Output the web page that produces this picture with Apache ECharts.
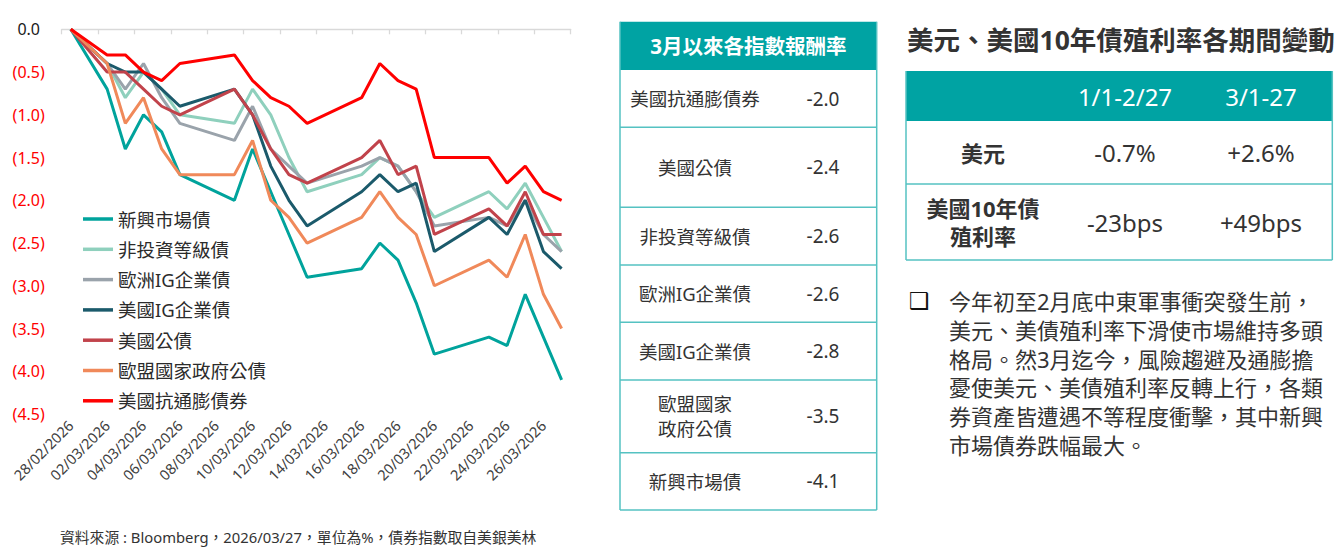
<!DOCTYPE html>
<html>
<head>
<meta charset="utf-8">
<script src="https://cdn.jsdelivr.net/npm/echarts@6/dist/echarts.min.js"></script>
<style>
  html, body { margin: 0; padding: 0; background: #fff; }
  #main { width: 1343px; height: 547px; }
</style>
</head>
<body>
<div id="main"></div>
<script>
// 日期（含週末，週末無資料以 null 表示）
const dates = [
  '28/02/2026', '01/03/2026', '02/03/2026', '03/03/2026', '04/03/2026', '05/03/2026', '06/03/2026',
  '07/03/2026', '08/03/2026', '09/03/2026', '10/03/2026', '11/03/2026', '12/03/2026', '13/03/2026',
  '14/03/2026', '15/03/2026', '16/03/2026', '17/03/2026', '18/03/2026', '19/03/2026', '20/03/2026',
  '21/03/2026', '22/03/2026', '23/03/2026', '24/03/2026', '25/03/2026', '26/03/2026', '27/03/2026'
];

// 各指數累積報酬（%）
const emBond   = [0, null, -0.7, -1.4, -1.0, -1.2, -1.7, null, null, -2.0, -1.4, -1.9, -2.4, -2.9, null, null, -2.8, -2.5, -2.7, -3.2, -3.8, null, null, -3.6, -3.7, -3.1, -3.6, -4.1];
const highYield = [0, null, -0.4, -0.8, -0.5, -0.7, -1.0, null, null, -1.1, -0.7, -1.0, -1.5, -1.9, null, null, -1.7, -1.5, -1.6, -1.9, -2.2, null, null, -1.9, -2.1, -1.8, -2.2, -2.6];
const euIG     = [0, null, -0.4, -0.7, -0.4, -0.8, -1.1, null, null, -1.3, -0.9, -1.4, -1.6, -1.8, null, null, -1.6, -1.5, -1.6, -1.9, -2.3, null, null, -2.2, -2.3, -2.0, -2.4, -2.6];
const usIG     = [0, null, -0.4, -0.5, -0.5, -0.7, -0.9, null, null, -0.7, -1.0, -1.6, -2.0, -2.3, null, null, -1.9, -1.7, -1.9, -1.8, -2.6, null, null, -2.2, -2.4, -2.0, -2.6, -2.8];
const usTsy    = [0, null, -0.5, -0.5, -0.7, -0.9, -1.0, null, null, -0.7, -1.0, -1.4, -1.7, -1.8, null, null, -1.5, -1.3, -1.7, -1.6, -2.4, null, null, -2.1, -2.3, -1.9, -2.4, -2.4];
const euGov    = [0, null, -0.4, -1.1, -0.8, -1.4, -1.7, null, null, -1.7, -1.3, -2.0, -2.2, -2.5, null, null, -2.2, -1.9, -2.2, -2.4, -3.0, null, null, -2.7, -2.9, -2.4, -3.1, -3.5];
const usTips   = [0, null, -0.3, -0.3, -0.5, -0.6, -0.4, null, null, -0.3, -0.6, -0.8, -0.9, -1.1, null, null, -0.8, -0.4, -0.6, -0.7, -1.5, null, null, -1.5, -1.8, -1.6, -1.9, -2.0];

const seriesNames = ['新興市場債', '非投資等級債', '歐洲IG企業債', '美國IG企業債', '美國公債', '歐盟國家政府公債', '美國抗通膨債券'];
const seriesData = [emBond, highYield, euIG, usIG, usTsy, euGov, usTips];
const seriesColors = ['#00a39c', '#8fd0bd', '#9aa3ab', '#1b5a6b', '#c1434b', '#f0895a', '#ff0000'];

// 3月以來各指數報酬率
const returnTitle = '3月以來各指數報酬率';
const returnNames = ['美國抗通膨債券', '美國公債', '非投資等級債', '歐洲IG企業債', '美國IG企業債', '歐盟國家\n政府公債', '新興市場債'];
const returnValues = ['-2.0', '-2.4', '-2.6', '-2.6', '-2.8', '-3.5', '-4.1'];

// 美元、美國10年債殖利率
const fxTitle = '美元、美國10年債殖利率各期間變動';
const periodLabels = ['1/1-2/27', '3/1-27'];
const fxRowLabels = ['美元', '美國10年債\n殖利率'];
const fxRowValues = [['-0.7%', '+2.6%'], ['-23bps', '+49bps']];

const commentLines = [
  '今年初至2月底中東軍事衝突發生前，',
  '美元、美債殖利率下滑使市場維持多頭',
  '格局。然3月迄今，風險趨避及通膨擔',
  '憂使美元、美債殖利率反轉上行，各類',
  '券資產皆遭遇不等程度衝擊，其中新興',
  '市場債券跌幅最大。'
];
const sourceNote = '資料來源 : Bloomberg，2026/03/27，單位為%，債券指數取自美銀美林';

const FONT = "'Noto Sans', 'Noto Sans CJK TC', sans-serif";
const TEAL = '#00a3a3';
const TEAL_LINE = '#55c2c2';
const TEXT = '#333333';

function txt(x, y, text, size, opts) {
  opts = opts || {};
  return {
    type: 'text',
    silent: true,
    style: {
      x: x, y: y, text: text,
      fill: opts.color || TEXT,
      fontSize: size,
      fontFamily: FONT,
      fontWeight: opts.bold ? 'bold' : 'normal',
      align: opts.align || 'center',
      verticalAlign: 'middle',
      lineHeight: opts.lineHeight || size * 1.3
    }
  };
}
function hline(x1, x2, y, color, w) {
  return { type: 'line', silent: true, shape: { x1: x1, y1: y, x2: x2, y2: y }, style: { stroke: color, lineWidth: w || 1.5 } };
}
function vline(x, y1, y2, color, w) {
  return { type: 'line', silent: true, shape: { x1: x, y1: y1, x2: x, y2: y2 }, style: { stroke: color, lineWidth: w || 1.5 } };
}

const graphics = [];

// 中間表格
const tL = 620, tR = 876.7, tTop = 21.7, tHead = 70;
const rowH = [57.3, 80, 57.7, 57.3, 57.7, 72.7, 57.3];
graphics.push({ type: 'rect', silent: true, shape: { x: tL, y: tTop, width: tR - tL, height: tHead - tTop }, style: { fill: TEAL } });
graphics.push(txt((tL + tR) / 2, (tTop + tHead) / 2, returnTitle, 20.5, { color: '#ffffff', bold: true }));
let yy = tHead;
returnNames.forEach(function (name, i) {
  const mid = yy + rowH[i] / 2;
  graphics.push(txt(695, mid, name, 18.5, { lineHeight: 25 }));
  graphics.push(txt(823, mid, returnValues[i], 19));
  yy += rowH[i];
  graphics.push(hline(tL, tR, yy, TEAL_LINE));
});
graphics.push(vline(tL, tTop, yy, TEAL_LINE));
graphics.push(vline(tR, tTop, yy, TEAL_LINE));

// 右側表格
graphics.push(txt(907, 40, fxTitle, 26.5, { bold: true, align: 'left' }));
const rL = 906, rR = 1332.3, rTop = 71, rHead = 121;
const rRowH = [63, 76];
const colX = [983, 1125, 1261];
graphics.push({ type: 'rect', silent: true, shape: { x: rL, y: rTop, width: rR - rL, height: rHead - rTop }, style: { fill: TEAL } });
periodLabels.forEach(function (p, i) {
  graphics.push(txt(colX[i + 1], (rTop + rHead) / 2, p, 24, { color: '#ffffff' }));
});
let ry = rHead;
fxRowLabels.forEach(function (label, i) {
  const mid = ry + rRowH[i] / 2;
  graphics.push(txt(colX[0], mid, label, 22, { bold: true, lineHeight: 27.5 }));
  fxRowValues[i].forEach(function (v, j) {
    graphics.push(txt(colX[j + 1], mid, v, 24));
  });
  ry += rRowH[i];
  graphics.push(hline(rL, rR, ry, TEAL_LINE));
});
graphics.push(vline(rL, rTop, ry, TEAL_LINE));
graphics.push(vline(rR, rTop, ry, TEAL_LINE));

// 說明文字
graphics.push({
  type: 'text', silent: true,
  style: { x: 909, y: 301, text: '\u2751', fill: '#111', fontSize: 23, fontFamily: "'DejaVu Sans'", align: 'left', verticalAlign: 'middle' }
});
commentLines.forEach(function (line, i) {
  graphics.push(txt(949, 300.7 + i * 28.9, line, 22, { align: 'left' }));
});

// 資料來源
graphics.push(txt(60, 537, sourceNote, 14.8, { align: 'left' }));

const chart = echarts.init(document.getElementById('main'), null, { renderer: 'svg' });

chart.setOption({
  animation: false,
  backgroundColor: '#ffffff',
  textStyle: { fontFamily: FONT },
  grid: { left: 61.7, top: 29.3, width: 509, height: 384.7, containLabel: false },
  legend: {
    data: seriesNames,
    orient: 'vertical',
    left: 83,
    top: 209,
    padding: 0,
    icon: 'rect',
    itemWidth: 30,
    itemHeight: 3.5,
    itemGap: 10.3,
    textStyle: { fontSize: 18.5, lineHeight: 20, color: '#2b2b2b', fontFamily: FONT }
  },
  xAxis: [
    {
      type: 'category',
      data: dates,
      position: 'bottom',
      boundaryGap: true,
      axisLine: { show: false, onZero: false },
      axisTick: { show: false },
      axisLabel: { interval: 1, rotate: 45, fontSize: 14.5, color: '#404040', margin: 9, fontFamily: FONT },
      splitLine: { show: false }
    },
    {
      type: 'category',
      data: dates,
      position: 'top',
      boundaryGap: true,
      axisLine: { show: true, onZero: false, lineStyle: { color: '#d9d9d9', width: 1.3 } },
      axisTick: { show: true, inside: true, length: 5, interval: 1, lineStyle: { color: '#d9d9d9', width: 1.3 } },
      axisLabel: { show: false },
      splitLine: { show: false }
    }
  ],
  yAxis: {
    type: 'value',
    min: -4.5,
    max: 0,
    interval: 0.5,
    axisLine: { show: false },
    axisTick: { show: false },
    splitLine: { show: false },
    axisLabel: {
      fontSize: 16,
      fontFamily: FONT,
      align: 'center',
      margin: 33,
      formatter: function (v) {
        return Number(v) === 0 ? '0.0' : '(' + Math.abs(Number(v)).toFixed(1) + ')';
      },
      color: function (v) {
        return Number(v) === 0 ? '#1a1a1a' : '#ff0000';
      }
    }
  },
  series: seriesNames.map(function (name, i) {
    return {
      name: name,
      type: 'line',
      xAxisIndex: 0,
      data: seriesData[i],
      connectNulls: true,
      showSymbol: false,
      symbol: 'none',
      lineStyle: { width: 3, color: seriesColors[i] },
      itemStyle: { color: seriesColors[i] },
      emphasis: { disabled: true }
    };
  }),
  graphic: { elements: graphics }
});
</script>
</body>
</html>
